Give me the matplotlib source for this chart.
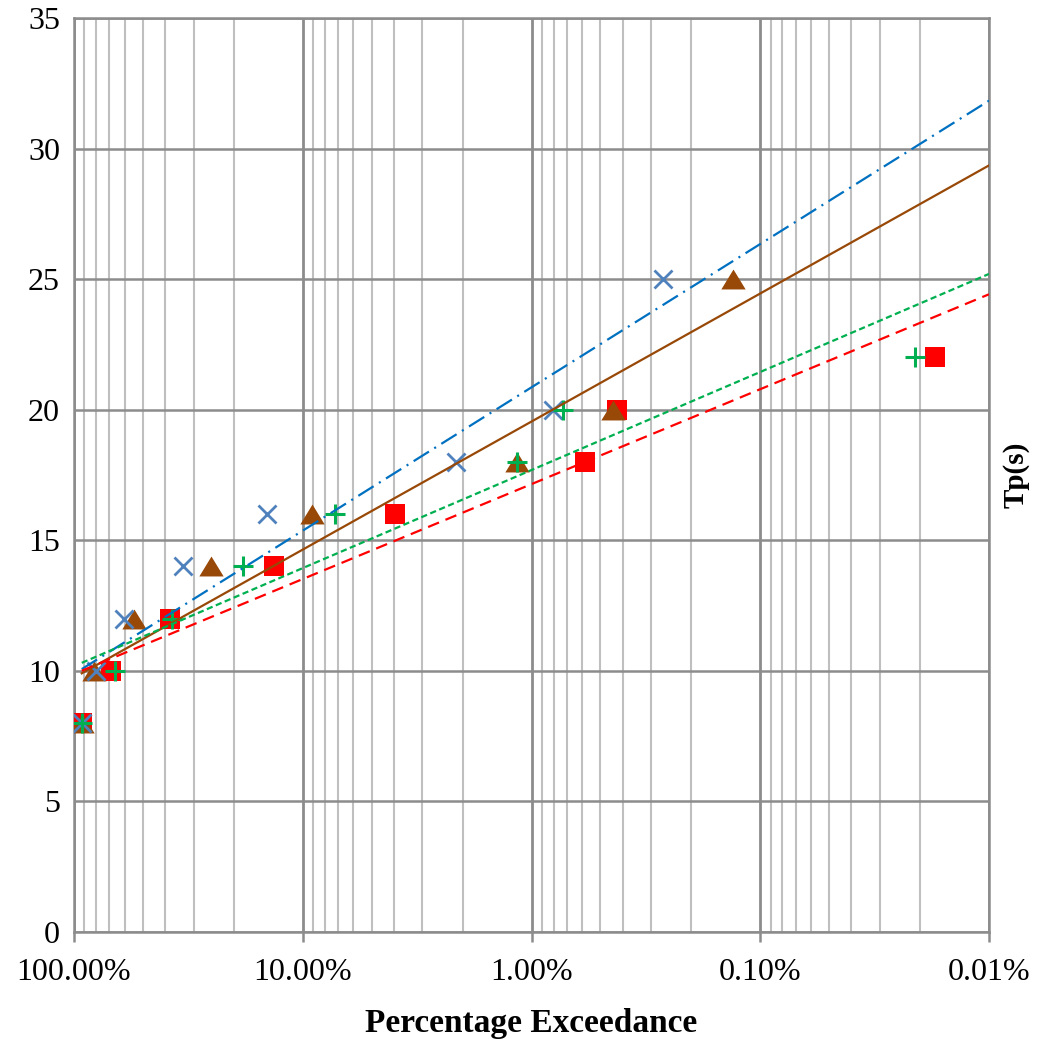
import matplotlib
matplotlib.use('Agg')
import matplotlib.pyplot as plt
import matplotlib.ticker as ticker
import numpy as np

# percentage exceedance (%) and Tp (s) for each series
cross_x = [92.5, 80.1, 60.4, 33.3, 14.3, 2.14, 0.805, 0.267]
cross_y = [8, 10, 12, 14, 16, 18, 20, 25]
tri_x = [92.5, 81.8, 54.9, 25.3, 9.07, 1.16, 0.44, 0.1316]
tri_y = [8, 10, 12, 14, 16, 18, 20, 25]
plus_x = [92.5, 66.2, 37.3, 18.3, 7.23, 1.16, 0.728, 0.0211]
plus_y = [8, 10, 12, 14, 16, 18, 20, 22]
sq_x = [92.5, 69.2, 38.0, 13.3, 3.95, 0.586, 0.421, 0.0172]
sq_y = [8, 10, 12, 14, 16, 18, 20, 22]

x_ticks = [100, 10, 1, 0.1, 0.01]
y_ticks = [0, 5, 10, 15, 20, 25, 30, 35]

plt.rcParams['font.family'] = ['Liberation Serif', 'DejaVu Serif']
plt.rcParams['lines.scale_dashes'] = False

# flatter triangle, like the excel marker
TRI = [(-1, -0.82), (1, -0.82), (0, 0.82), (-1, -0.82)]


def log_trend(x, y, x_end=0.01):
    # excel style logarithmic trendline, forecast forward to x_end
    a, b = np.polyfit(np.log10(x), y, 1)
    xs = np.array([max(x), x_end])
    return xs, a * np.log10(xs) + b


def main():
    fig = plt.figure(figsize=(10.39, 10.43), dpi=100)
    ax = fig.add_axes([74 / 1039, 111 / 1043, 915 / 1039, 914 / 1043])

    ax.set_xscale('log')
    ax.set_xlim(100, 0.01)
    ax.set_ylim(0, 35)
    ax.xaxis.set_major_locator(ticker.FixedLocator(x_ticks))
    ax.xaxis.set_minor_locator(ticker.LogLocator(base=10, subs=np.arange(2, 10)))
    ax.xaxis.set_major_formatter(ticker.FuncFormatter(lambda v, p: '{:.2f}%'.format(v)))
    ax.xaxis.set_minor_formatter(ticker.NullFormatter())
    ax.set_yticks(y_ticks)

    ax.grid(which='minor', axis='x', color='#bfbfbf', lw=1.5, zorder=0)
    ax.grid(which='major', axis='x', color='#8c8c8c', lw=2.0, zorder=0)
    ax.grid(which='major', axis='y', color='#8c8c8c', lw=1.8, zorder=0)
    ax.set_axisbelow(True)

    for s in ax.spines.values():
        s.set_color('#8c8c8c')
        s.set_linewidth(1.8)

    ax.tick_params(axis='y', length=0, pad=10, labelsize=23)
    ax.tick_params(axis='x', which='major', length=7, width=1.8, color='#8c8c8c',
                   direction='out', pad=12, labelsize=23)
    ax.tick_params(axis='x', which='minor', length=0)

    # markers
    ax.plot(sq_x, sq_y, ls='none', marker='s', ms=14.5, color='#ff0000', mew=0, zorder=3)
    ax.plot(tri_x, tri_y, ls='none', marker=TRI, ms=17.5, color='#984807', mew=0, zorder=4)
    ax.plot(cross_x, cross_y, ls='none', marker='x', ms=13, mew=2.0, color='#4f81bd', zorder=5)
    ax.plot(plus_x, plus_y, ls='none', marker='+', ms=14, mew=2.2, color='#00b050', zorder=6)

    # trendlines
    xs, ys = log_trend(cross_x, cross_y)
    ax.plot(xs, ys, color='#0070c0', lw=1.6, dashes=(13, 4.5, 1.5, 4.5), zorder=7)
    xs, ys = log_trend(tri_x, tri_y)
    ax.plot(xs, ys, color='#984807', lw=1.6, zorder=7)
    xs, ys = log_trend(plus_x, plus_y)
    ax.plot(xs, ys, color='#00b050', lw=1.6, dashes=(4.5, 2.5), zorder=7)
    xs, ys = log_trend(sq_x, sq_y)
    ax.plot(xs, ys, color='#ff0000', lw=1.6, dashes=(8.5, 5), zorder=7)

    ax.set_xlabel('Percentage Exceedance', fontsize=24, fontweight='bold', labelpad=15)
    ax.yaxis.set_label_position('right')
    ax.set_ylabel('Tp(s)', fontsize=21, fontweight='bold', labelpad=10, rotation=90)

    fig.savefig('out.png', dpi=100)


if __name__ == '__main__':
    main()
